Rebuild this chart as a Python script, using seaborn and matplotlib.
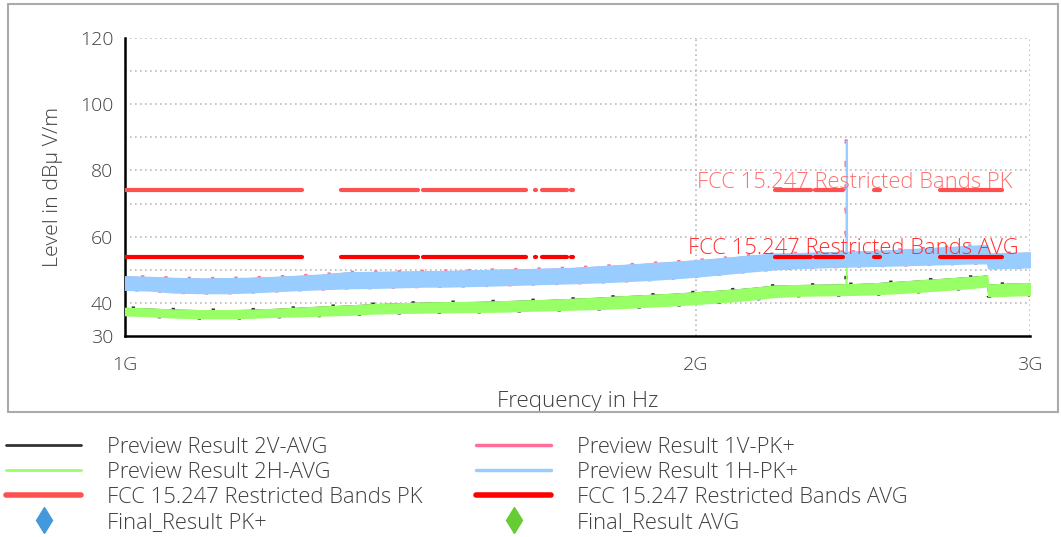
import numpy as np
import pandas as pd
import matplotlib
matplotlib.use("Agg")
import matplotlib.pyplot as plt
import matplotlib.transforms as mtransforms
from matplotlib.lines import Line2D
from matplotlib.patches import Rectangle
import seaborn as sns

# ---------------- data ----------------
freq_mhz = [1000, 1030, 1060, 1100, 1130, 1160, 1200, 1240, 1270, 1310,
            1350, 1400, 1440, 1480, 1530, 1580, 1620, 1670, 1720, 1780,
            1830, 1890, 1950, 2000, 2070, 2130, 2200, 2270, 2330, 2398,
            2399, 2400, 2401, 2480, 2560, 2640, 2720, 2800, 2848, 2852,
            2920, 3000]
# Preview Result 1V/1H-PK+ envelope (dBµV/m)
pk_low = [44.0, 43.8, 43.2, 43.0, 43.0, 43.2, 43.6, 44.0, 44.2, 44.5,
          44.6, 44.8, 45.0, 45.0, 45.2, 45.4, 45.6, 45.8, 46.0, 46.3,
          46.6, 47.0, 47.5, 48.0, 48.8, 49.5, 50.2, 50.6, 50.8, 51.0,
          51.0, 51.0, 51.0, 51.2, 51.4, 51.6, 51.8, 52.0, 52.0, 50.5,
          50.6, 50.8]
pk_high = [48.0, 47.8, 47.5, 47.3, 47.4, 47.5, 47.8, 48.2, 48.5, 49.2,
           49.3, 49.4, 49.5, 49.6, 49.8, 50.0, 50.1, 50.3, 50.5, 51.0,
           51.4, 51.9, 52.4, 52.8, 53.5, 54.2, 54.8, 55.0, 55.2, 55.4,
           55.4, 89.0, 55.4, 55.6, 56.0, 56.4, 56.8, 57.2, 57.3, 54.8,
           55.0, 55.2]
# Preview Result 2V/2H-AVG envelope (dBµV/m)
avg_low = [36.3, 36.0, 35.6, 35.4, 35.4, 35.5, 35.8, 36.0, 36.2, 36.4,
           36.8, 37.0, 37.1, 37.2, 37.3, 37.4, 37.6, 37.8, 38.0, 38.2,
           38.5, 38.9, 39.3, 39.7, 40.3, 40.9, 41.8, 42.2, 42.3, 42.4,
           42.4, 42.4, 42.4, 42.6, 43.0, 43.5, 44.0, 44.6, 45.0, 42.0,
           42.2, 42.4]
avg_high = [38.5, 38.3, 38.0, 37.8, 37.8, 37.9, 38.2, 38.6, 38.9, 39.2,
            39.6, 39.9, 40.1, 40.2, 40.3, 40.5, 40.7, 40.9, 41.2, 41.6,
            42.0, 42.4, 42.8, 43.2, 43.8, 44.4, 45.2, 45.4, 45.5, 45.6,
            45.6, 52.0, 45.6, 45.9, 46.4, 46.9, 47.4, 47.9, 48.3, 45.5,
            45.8, 46.0]

# FCC 15.205 restricted bands (MHz) and limits
band_start_mhz = [960, 1300, 1435, 1645.5, 1660, 1718.8, 2200, 2310, 2483.5, 2690]
band_stop_mhz = [1240, 1427, 1626.5, 1646.5, 1710, 1722.2, 2300, 2390, 2500, 2900]
limit_pk = 74
limit_avg = 54

y_major = [30, 40, 60, 80, 100, 120]
y_minor = [50, 70, 90, 110]
x_ticks_mhz = [1000, 2000, 3000]
x_ticklabels = ["1G", "2G", "3G"]

legend_col1 = ["Preview Result 2V-AVG", "Preview Result 2H-AVG",
               "FCC 15.247 Restricted Bands PK", "Final_Result PK+"]
legend_col2 = ["Preview Result 1V-PK+", "Preview Result 1H-PK+",
               "FCC 15.247 Restricted Bands AVG", "Final_Result AVG"]

# ---------------- style ----------------
sns.set_style("white")
plt.rcParams["font.family"] = ["Open Sans", "DejaVu Sans"]
plt.rcParams["font.weight"] = 300
plt.rcParams["axes.labelweight"] = 300
TXT = "#404040"

C_BLACK = "#333333"
C_GREEN = "#99ff66"
C_PINK = "#ff6f9a"
C_BLUE = "#99ccff"
C_PK = "#ff5050"
C_AVG = "#ff0000"

W, H = 1061, 537
fig = plt.figure(figsize=(W / 100, H / 100), dpi=100)
fig.patch.set_facecolor("white")
fig.add_artist(Rectangle((8 / W, 1 - 412 / H), 1050 / W, 408 / H,
                         transform=fig.transFigure, fill=False,
                         edgecolor="#aaaaaa", linewidth=1.5))

ax = fig.add_axes([125 / W, 1 - 336 / H, 905 / W, 298 / H])

# traces
ax.fill_between(freq_mhz, avg_low, avg_high, facecolor=C_BLACK,
                edgecolor=C_BLACK, linewidth=2.4, linestyle=(0, (1, 11)), zorder=2)
ax.fill_between(freq_mhz, avg_low, avg_high, facecolor=C_GREEN,
                edgecolor=C_GREEN, linewidth=1.0, zorder=3)
ax.fill_between(freq_mhz, pk_low, pk_high, facecolor=C_PINK,
                edgecolor=C_PINK, linewidth=2.4, linestyle=(0, (1, 6)), zorder=2)
ax.fill_between(freq_mhz, pk_low, pk_high, facecolor=C_BLUE,
                edgecolor=C_BLUE, linewidth=1.2, zorder=3)

# limit lines, one segment per restricted band
rows = []
for i, (a, b) in enumerate(zip(band_start_mhz, band_stop_mhz)):
    for f in (a, b):
        rows.append({"band": i, "f": f, "pk": limit_pk, "avg": limit_avg})
lim = pd.DataFrame(rows)
sns.lineplot(data=lim, x="f", y="pk", units="band", estimator=None,
             color=C_PK, linewidth=3, ax=ax, zorder=5, legend=False)
sns.lineplot(data=lim, x="f", y="avg", units="band", estimator=None,
             color=C_AVG, linewidth=3, ax=ax, zorder=5, legend=False)

blend = mtransforms.blended_transform_factory(ax.transAxes, ax.transData)
ax.text(0.981, 76.4, "FCC 15.247 Restricted Bands PK", transform=blend,
        ha="right", va="center", fontsize=15.8, color="#ff7070", zorder=6)
ax.text(0.987, 56.3, "FCC 15.247 Restricted Bands AVG", transform=blend,
        ha="right", va="center", fontsize=15.8, color="#ff3030", zorder=6)

# axes
ax.set_xscale("log")
ax.set_xlim(1000, 3000)
ax.set_ylim(30, 120)
ax.set_xticks(x_ticks_mhz)
ax.set_xticklabels(x_ticklabels)
ax.xaxis.set_minor_locator(matplotlib.ticker.NullLocator())
ax.set_yticks(y_major)
ax.set_yticks(y_minor, minor=True)
ax.tick_params(axis="both", which="both", direction="inout", length=13,
               width=1.8, color="black", labelsize=14, labelcolor=TXT)
ax.tick_params(axis="x", pad=8)
ax.tick_params(axis="y", pad=2)
for s in ("top", "right"):
    ax.spines[s].set_visible(False)
for s in ("left", "bottom"):
    ax.spines[s].set_linewidth(1.8)
    ax.spines[s].set_color("black")

for v in y_major[1:] + y_minor:
    ax.axhline(v, color="#bbbbbb", linestyle=(0, (1, 2)), linewidth=1.2, zorder=1)
for f in x_ticks_mhz[1:]:
    ax.axvline(f, color="#bbbbbb", linestyle=(0, (1, 2)), linewidth=1.2, zorder=1)

ax.set_xlabel("Frequency in Hz", fontsize=16.2, color=TXT, labelpad=12)
ax.set_ylabel("Level in dBµ V/m", fontsize=15.4, color=TXT, labelpad=12)

# legend
FS = 15.8
h1 = [Line2D([], [], color=C_BLACK, lw=2),
      Line2D([], [], color=C_GREEN, lw=2),
      Line2D([], [], color=C_PK, lw=4),
      Line2D([], [], color="#4499dd", lw=0, marker="d", markersize=13)]
h2 = [Line2D([], [], color=C_PINK, lw=2.5),
      Line2D([], [], color=C_BLUE, lw=2.5),
      Line2D([], [], color=C_AVG, lw=4),
      Line2D([], [], color="#66cc33", lw=0, marker="d", markersize=13)]
common = dict(loc="upper left", frameon=False, fontsize=FS, borderpad=0,
              borderaxespad=0, handlelength=75 / (FS * 100 / 72),
              handletextpad=26 / (FS * 100 / 72),
              labelspacing=0.18, labelcolor=TXT)
leg1 = fig.legend(h1, legend_col1, bbox_to_anchor=(6 / W, 1 - 437 / H), **common)
leg2 = fig.legend(h2, legend_col2, bbox_to_anchor=(476 / W, 1 - 437 / H), **common)

fig.savefig("out.png", dpi=100)
